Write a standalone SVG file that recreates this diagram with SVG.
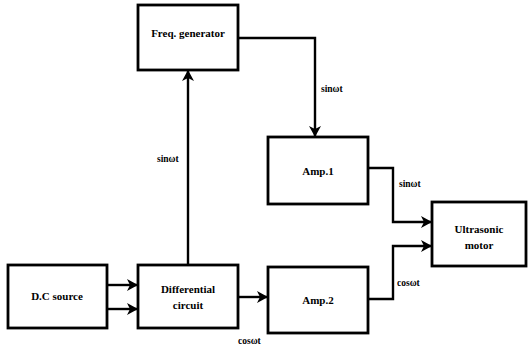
<svg xmlns="http://www.w3.org/2000/svg" width="528" height="349" viewBox="0 0 528 349">
<style>
.box{fill:#fff;stroke:#000;stroke-width:2.8}
.t{font-family:"Liberation Serif","DejaVu Serif",serif;font-weight:bold;font-size:11px;text-anchor:middle;fill:#000}
.l{font-family:"Liberation Serif","DejaVu Serif",serif;font-weight:bold;font-size:9.5px;fill:#000}
.c{fill:none;stroke:#000;stroke-width:2.4}
</style>
<defs>
<marker id="ah" markerWidth="12" markerHeight="12" refX="10" refY="6" orient="auto" markerUnits="userSpaceOnUse">
<path d="M0,0 L11,6 L0,12 L3,6 Z" fill="#000"/>
</marker>
</defs>
<rect width="528" height="349" fill="#fff"/>
<g id="connectors">
<path class="c" d="M107,285 H137" marker-end="url(#ah)"/>
<path class="c" d="M107,309 H137" marker-end="url(#ah)"/>
<path class="c" d="M188,265 V71" marker-end="url(#ah)"/>
<path class="c" d="M238,38 H315 V136" marker-end="url(#ah)"/>
<path class="c" d="M238,297 H267" marker-end="url(#ah)"/>
<path class="c" d="M368,168 H393 V222 H431" marker-end="url(#ah)"/>
<path class="c" d="M368,299 H393 V246 H431" marker-end="url(#ah)"/>
<text class="l" x="157" y="162">sinωt</text>
<text class="l" x="321" y="92">sinωt</text>
<text class="l" x="399" y="187">sinωt</text>
<text class="l" x="397" y="286">cosωt</text>
<text class="l" x="238" y="344">cosωt</text>
</g>
<g id="freq"><rect class="box" x="138" y="5" width="100" height="65"/><text class="t" x="188" y="37">Freq. generator</text></g>
<g id="amp1"><rect class="box" x="268" y="137" width="100" height="67"/><text class="t" x="318" y="175">Amp.1</text></g>
<g id="motor"><rect class="box" x="432" y="202" width="94" height="64"/><text class="t" x="479" y="233">Ultrasonic</text><text class="t" x="479" y="249">motor</text></g>
<g id="dc"><rect class="box" x="8" y="265" width="99" height="63"/><text class="t" x="57" y="300">D.C source</text></g>
<g id="diff"><rect class="box" x="138" y="265" width="100" height="63"/><text class="t" x="188" y="293">Differential</text><text class="t" x="188" y="309">circuit</text></g>
<g id="amp2"><rect class="box" x="268" y="267" width="100" height="66"/><text class="t" x="318" y="304">Amp.2</text></g>
</svg>
